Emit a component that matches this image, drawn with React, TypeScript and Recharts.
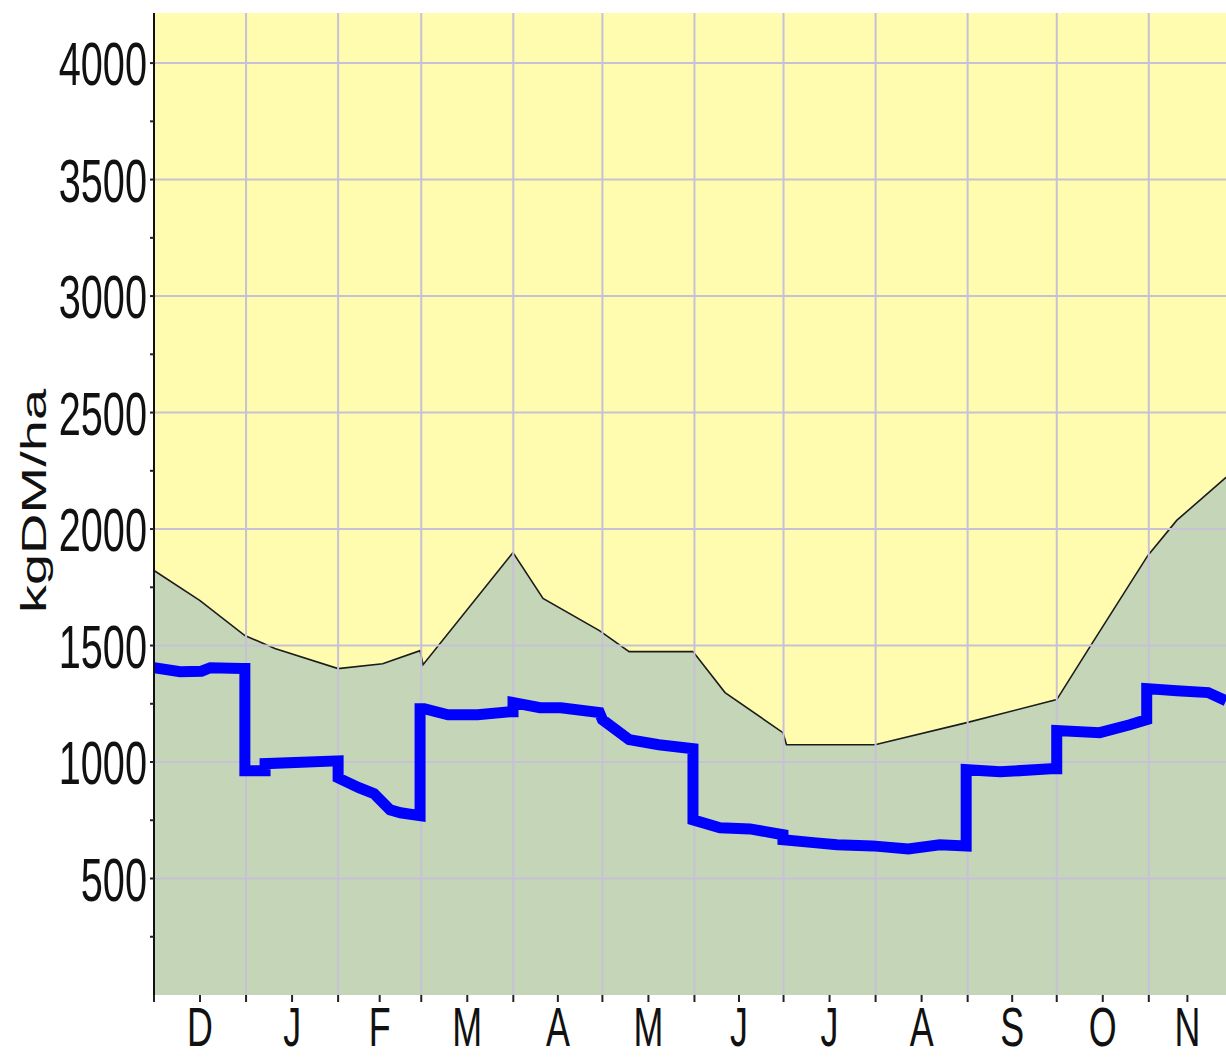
import { Area, CartesianGrid, ComposedChart, Line, XAxis, YAxis } from "recharts";

// days since 1 Dec
const monthStarts = [0, 31, 62, 90, 121, 151, 182, 212, 243, 274, 304, 335];
const monthMids = [15.5, 46.5, 76, 105.5, 136, 166.5, 197, 227.5, 258.5, 289, 319.5, 348];
const monthLabels = ["D", "J", "F", "M", "A", "M", "J", "J", "A", "S", "O", "N"];

const yTicks = [250, 500, 750, 1000, 1250, 1500, 1750, 2000, 2250, 2500, 2750, 3000, 3250, 3500, 3750, 4000];
const yGrid = [500, 1000, 1500, 2000, 2500, 3000, 3500, 4000];

const coverDays = [0, 15.5, 30.6, 40.7, 62, 77, 89.6, 90.6, 120.9, 131, 150, 160, 181.5, 192.3, 211.8, 213, 242.8, 273.7, 304, 315, 334.7, 344.4, 361];
const coverKg = [1822, 1693, 1543, 1487, 1401, 1422, 1478, 1418, 1899, 1702, 1564, 1474, 1474, 1298, 1126, 1074, 1074, 1169, 1268, 1491, 1887, 2037, 2222];

const targetDays = [0, 8.8, 16, 19, 29.6, 30.6, 30.6, 37.4, 37.4, 62, 62, 69, 74.1, 79.5, 83, 89.6, 89.6, 91, 99, 109, 120, 120.9, 120.9, 130, 137, 150, 151, 160, 170, 181.5, 181.5, 190.6, 200.7, 211.8, 211.8, 223, 230, 242, 254, 264.6, 273.5, 273.5, 285, 302, 304, 304, 318.5, 328.6, 334.3, 334.3, 344.4, 355, 361];
const targetKg = [1405, 1388, 1390, 1405, 1401, 1401, 963, 963, 993, 1005, 932, 890, 864, 795, 782, 770, 1229, 1229, 1203, 1203, 1216, 1216, 1255, 1233, 1233, 1212, 1182, 1096, 1074, 1057, 752, 718, 713, 688, 666, 653, 645, 640, 627, 645, 640, 967, 958, 971, 971, 1135, 1126, 1160, 1182, 1315, 1306, 1298, 1263];

const coverData = coverDays.map((day, i) => ({ day, kg: coverKg[i] }));
const targetData = targetDays.map((day, i) => ({ day, kg: targetKg[i] }));

const FONT = "'Liberation Sans', Arial, sans-serif";
const SQUEEZE = 0.64;

const YTick = (props: any) => {
  const { y, payload } = props;
  if (payload.value % 500 !== 0) return <g />;
  return (
    <text
      transform={`translate(147 ${y + 22}) scale(${SQUEEZE} 1)`}
      textAnchor="end"
      fontSize={62}
      fontFamily={FONT}
      fill="#111"
    >
      {payload.value}
    </text>
  );
};

const XTick = (props: any) => {
  const { x, payload } = props;
  const idx = monthMids.indexOf(payload.value);
  if (idx < 0) return <g />;
  return (
    <text
      transform={`translate(${x} 1046) scale(${SQUEEZE} 1)`}
      textAnchor="middle"
      fontSize={56}
      fontFamily={FONT}
      fill="#111"
    >
      {monthLabels[idx]}
    </text>
  );
};

const yLabel = () => (
  <text
    transform={`translate(46 501) scale(${SQUEEZE} 1) rotate(-90)`}
    textAnchor="middle"
    fontSize={56}
    fontFamily={FONT}
    fill="#111"
  >
    kgDM/ha
  </text>
);

export default function App() {
  const xTicks = [...monthStarts, ...monthMids].sort((a, b) => a - b);
  return (
    <div>
      <style>{"body{margin:0;overflow:hidden}"}</style>
      <ComposedChart width={1226} height={1058} margin={{ top: 13, right: 0, bottom: 0, left: 0 }}>
        <CartesianGrid horizontal={false} vertical={false} fill="#fffcb0" stroke="none" />
        <XAxis
          dataKey="day"
          type="number"
          domain={[0, 361]}
          allowDataOverflow
          ticks={xTicks}
          interval={0}
          tick={<XTick />}
          tickSize={7}
          tickLine={{ stroke: "#222", strokeWidth: 2 }}
          axisLine={false}
          height={63}
        />
        <XAxis
          xAxisId="top"
          orientation="top"
          type="number"
          domain={[0, 361]}
          tick={false}
          tickLine={false}
          height={0}
          axisLine={{ stroke: "#111", strokeWidth: 2.5 }}
        />
        <YAxis
          type="number"
          domain={[0, 4215]}
          allowDataOverflow
          ticks={yTicks}
          interval={0}
          tick={<YTick />}
          tickSize={4}
          tickLine={{ stroke: "#222", strokeWidth: 2 }}
          axisLine={{ stroke: "#111", strokeWidth: 2 }}
          width={154}
          label={{ content: yLabel }}
        />
        <Area
          data={coverData}
          dataKey="kg"
          type="linear"
          stroke="#1c1c1c"
          strokeWidth={1.6}
          fill="#c5d6b8"
          fillOpacity={1}
          isAnimationActive={false}
          dot={false}
          activeDot={false}
        />
        <CartesianGrid
          zIndex={150}
          stroke="#c6c1d6"
          strokeWidth={2}
          verticalValues={monthStarts.slice(1)}
          horizontalValues={yGrid}
        />
        <Line
          data={targetData}
          dataKey="kg"
          type="linear"
          stroke="#0000ff"
          strokeWidth={11}
          strokeLinecap="butt"
          strokeLinejoin="miter"
          dot={false}
          activeDot={false}
          isAnimationActive={false}
        />
      </ComposedChart>
    </div>
  );
}
